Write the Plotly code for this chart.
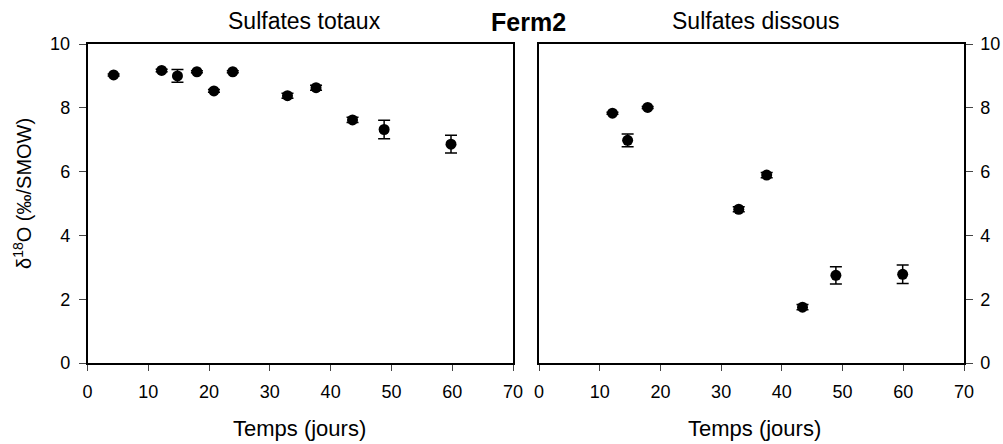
import plotly.graph_objects as go

# Sulfates totaux
jours_tot = [4.3, 12.2, 14.8, 18.0, 20.8, 23.9, 32.9, 37.6, 43.6, 48.8, 59.8]
d18o_tot = [9.03, 9.17, 9.0, 9.13, 8.53, 9.13, 8.38, 8.63, 7.62, 7.32, 6.86]
err_tot = [0.03, 0.04, 0.2, 0.03, 0.04, 0.03, 0.08, 0.08, 0.08, 0.29, 0.28]

# Sulfates dissous
jours_dis = [12.1, 14.6, 17.9, 32.9, 37.5, 43.4, 48.9, 59.9]
d18o_dis = [7.83, 6.98, 8.01, 4.82, 5.89, 1.75, 2.75, 2.78]
err_dis = [0.03, 0.2, 0.03, 0.08, 0.08, 0.08, 0.27, 0.29]

xticks = [0, 10, 20, 30, 40, 50, 60, 70]
yticks = [0, 2, 4, 6, 8, 10]

W, H = 1003, 444
FONT = "Arial, Liberation Sans, sans-serif"


def px(x):
    return x / W


def py(y):
    return 1 - y / H


fig = go.Figure()
for xs, ys, es, xa, ya in [(jours_tot, d18o_tot, err_tot, "x", "y"),
                           (jours_dis, d18o_dis, err_dis, "x2", "y2")]:
    fig.add_trace(go.Scatter(
        x=xs, y=ys, mode="markers", xaxis=xa, yaxis=ya,
        marker=dict(color="black", size=11),
        error_y=dict(type="data", array=es, color="black", thickness=1.5, width=6),
        showlegend=False,
    ))

tickfont = dict(size=18, color="black", family=FONT)
xax = dict(range=[0, 70], tickvals=xticks, ticks="outside", ticklen=6, tickwidth=1.3,
           showline=True, linecolor="black", linewidth=1.5, mirror=True, showgrid=False,
           zeroline=False, tickfont=tickfont, automargin=False, ticklabelstandoff=6)
yax = dict(range=[0, 10], tickvals=yticks, ticks="outside", ticklen=7, tickwidth=1.3,
           showline=True, linecolor="black", linewidth=1.5, mirror=True, showgrid=False,
           zeroline=False, tickfont=tickfont, automargin=False, ticklabelstandoff=5,
           domain=[py(363), py(44)])

fig.update_layout(
    width=W, height=H,
    margin=dict(l=0, r=0, t=0, b=0),
    paper_bgcolor="white", plot_bgcolor="white",
    font=dict(family=FONT, color="black"),
    xaxis=dict(xax, domain=[px(87.5), px(513)], anchor="y"),
    yaxis=dict(yax, anchor="x", side="left"),
    xaxis2=dict(xax, domain=[px(539), px(964)], anchor="y2"),
    yaxis2=dict(yax, anchor="x2", side="right", ticklabelstandoff=4),
)

ann = [
    ("Sulfates totaux", 304, 21, 23, 0),
    ("Sulfates dissous", 755, 21, 23, 0),
    ("<b>Ferm2</b>", 528, 22, 25, 0),
    ("Temps (jours)", 299, 428, 22, 0),
    ("Temps (jours)", 754, 428, 22, 0),
    ("δ<sup>18</sup>O (‰/SMOW)", 22, 194, 20, -90),
]
for text, x, y, size, angle in ann:
    fig.add_annotation(text=text, x=px(x), y=py(y), xref="paper", yref="paper",
                       showarrow=False, textangle=angle,
                       font=dict(size=size, color="black", family=FONT),
                       xanchor="center", yanchor="middle")

# drop the default body margin so the figure sits at the page corner
fig.write_html("out.html", config={"displayModeBar": False},
               post_script="document.body.style.margin='0';document.body.style.overflow='hidden';")
